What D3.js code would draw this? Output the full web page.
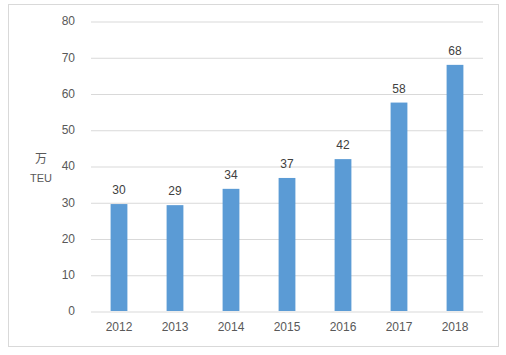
<!DOCTYPE html>
<html><head><meta charset="utf-8">
<script src="https://cdn.jsdelivr.net/npm/d3@7"></script>
<style>body{margin:0;background:#fff}svg{display:block}</style>
</head><body>
<script>
const years = ["2012","2013","2014","2015","2016","2017","2018"];
const values = [29.5, 29.2, 33.7, 36.7, 41.9, 57.5, 67.9];
const labels = ["30","29","34","37","42","58","68"];
const yTicks = [0,10,20,30,40,50,60,70,80];

const W = 506, H = 355;
const svg = d3.select("body").append("svg").attr("width", W).attr("height", H);
const font = "'Liberation Sans', Arial, sans-serif";
svg.append("rect").attr("x", 8.5).attr("y", 4.5).attr("width", 490).attr("height", 342)
  .attr("fill", "#fff").attr("stroke", "#d9d9d9");

const x = d3.scaleBand().domain(years).range([91, 483]).paddingInner(0.7).paddingOuter(0.35);
const y = d3.scaleLinear().domain([0, 80]).range([311, 21]);

const yAxis = svg.append("g").attr("transform", "translate(91,0)")
  .call(d3.axisLeft(y).tickValues(yTicks).tickSize(-392).tickPadding(16));
yAxis.select(".domain").remove();
yAxis.selectAll("line").attr("stroke", "#d9d9d9").attr("transform", "translate(0,0.5)");
yAxis.selectAll("text").attr("font-family", font).attr("font-size", 12).attr("fill", "#595959");

const xAxis = svg.append("g").attr("transform", "translate(0,311)")
  .call(d3.axisBottom(x).tickSize(0).tickPadding(11));
xAxis.select(".domain").remove();
xAxis.selectAll("text").attr("font-family", font).attr("font-size", 12).attr("fill", "#595959");

svg.selectAll("rect.bar").data(values).join("rect").attr("class", "bar")
  .attr("x", (d, i) => x(years[i])).attr("width", x.bandwidth())
  .attr("y", d => y(d)).attr("height", d => y(0) - y(d)).attr("fill", "#5b9bd5");

svg.selectAll("text.lbl").data(values).join("text").attr("class", "lbl")
  .attr("x", (d, i) => x(years[i]) + x.bandwidth() / 2).attr("y", d => y(d) - 10)
  .attr("text-anchor", "middle").attr("font-family", font).attr("font-size", 12)
  .attr("fill", "#404040").text((d, i) => labels[i]);

svg.append("text").attr("x", 41).attr("y", 163).attr("text-anchor", "middle")
  .attr("font-family", "'Noto Sans CJK SC', sans-serif").attr("font-size", 12).attr("fill", "#595959").text("万");
svg.append("text").attr("x", 41).attr("y", 182).attr("text-anchor", "middle")
  .attr("font-family", font).attr("font-size", 11).attr("fill", "#595959").text("TEU");
</script>
</body></html>
